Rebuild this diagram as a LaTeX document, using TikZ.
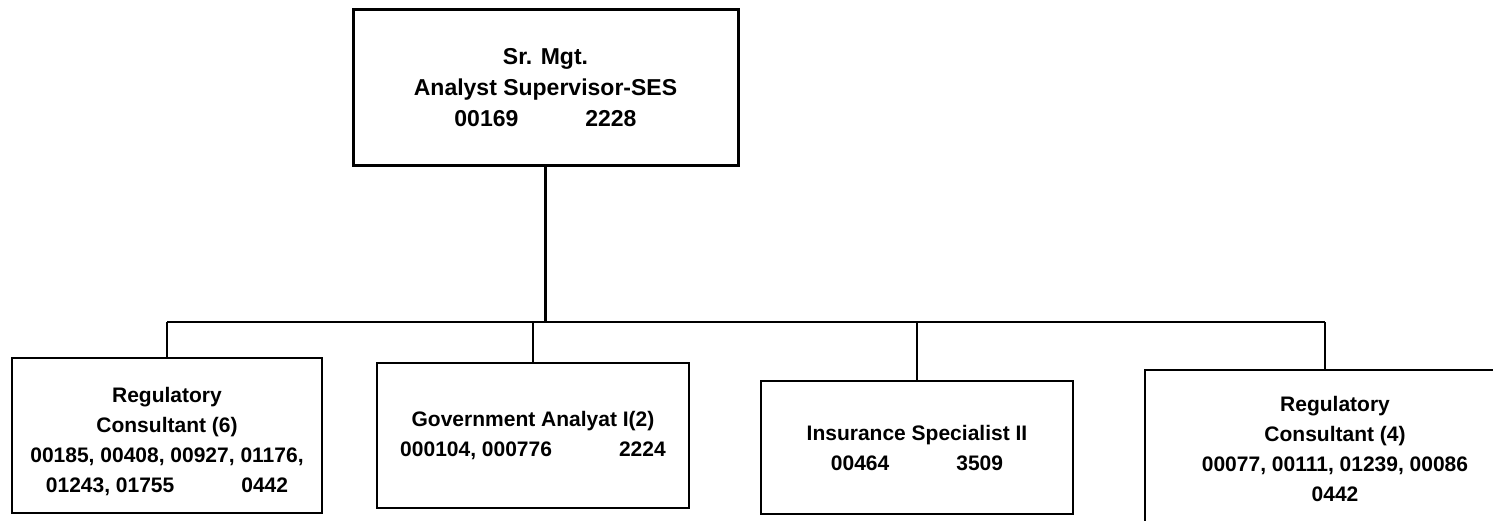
\documentclass[tikz,border=0pt]{standalone}
\usepackage{fontspec}
\setmainfont{Liberation Sans}
\begin{document}
\begin{tikzpicture}[x=1pt,y=-1pt,
  headbox/.style={draw=black,line width=3pt,minimum width=385pt,minimum height=156pt,inner sep=0pt},
  unitbox/.style={draw=black,line width=1.6pt,inner sep=0pt},
  headtext/.style={align=center,inner sep=0pt,font=\bfseries\fontsize{23}{31}\selectfont},
  unittext/.style={align=center,inner sep=0pt,font=\bfseries\fontsize{21}{30}\selectfont},
  trunk/.style={line width=2.6pt},
  bus/.style={line width=2pt},
  drop/.style={line width=1.6pt}]
\useasboundingbox (0,0) rectangle (1493,520);
\clip (0,0) rectangle (1493,520);

% head of the unit
\node[headbox] (head) at (545.5,87.5) {};
\node[headtext] (headt) at (545.5,88) {Sr. Mgt.\\Analyst Supervisor-SES\\00169\hspace{67pt}2228};

% subordinate positions
\node[unitbox,minimum width=310pt,minimum height=155pt] (b1) at (167,435.5) {};
\node[unittext] (t1) at (167,442) {Regulatory\\Consultant (6)\\00185, 00408, 00927, 01176,\\01243, 01755\hspace{67pt}0442};

\node[unitbox,minimum width=312pt,minimum height=145pt] (b2) at (533,435.5) {};
\node[unittext] (t2) at (533,436) {Government Analyat I(2)\\000104, 000776\hspace{67pt}2224};

\node[unitbox,minimum width=312pt,minimum height=133pt] (b3) at (917,447.5) {};
\node[unittext] (t3) at (917,448) {Insurance Specialist II\\00464\hspace{67pt}3509};

\node[unitbox,minimum width=380pt,minimum height=160pt] (b4) at (1335,450) {};
\node[unittext] (t4) at (1335,449) {Regulatory\\Consultant (4)\\00077, 00111, 01239, 00086\\0442};

% reporting lines
\coordinate (busy) at (0,322);
\coordinate (d4) at ([xshift=-10pt]b4.north);
\draw[trunk] (head.south) -- (head.south |- busy);
\draw[bus] (b1.north |- busy) -- (d4 |- busy);
\draw[drop] (b1.north |- busy) -- (b1.north);
\draw[drop] (b2.north |- busy) -- (b2.north);
\draw[drop] (b3.north |- busy) -- (b3.north);
\draw[drop] (d4 |- busy) -- (d4);
\end{tikzpicture}
\end{document}
